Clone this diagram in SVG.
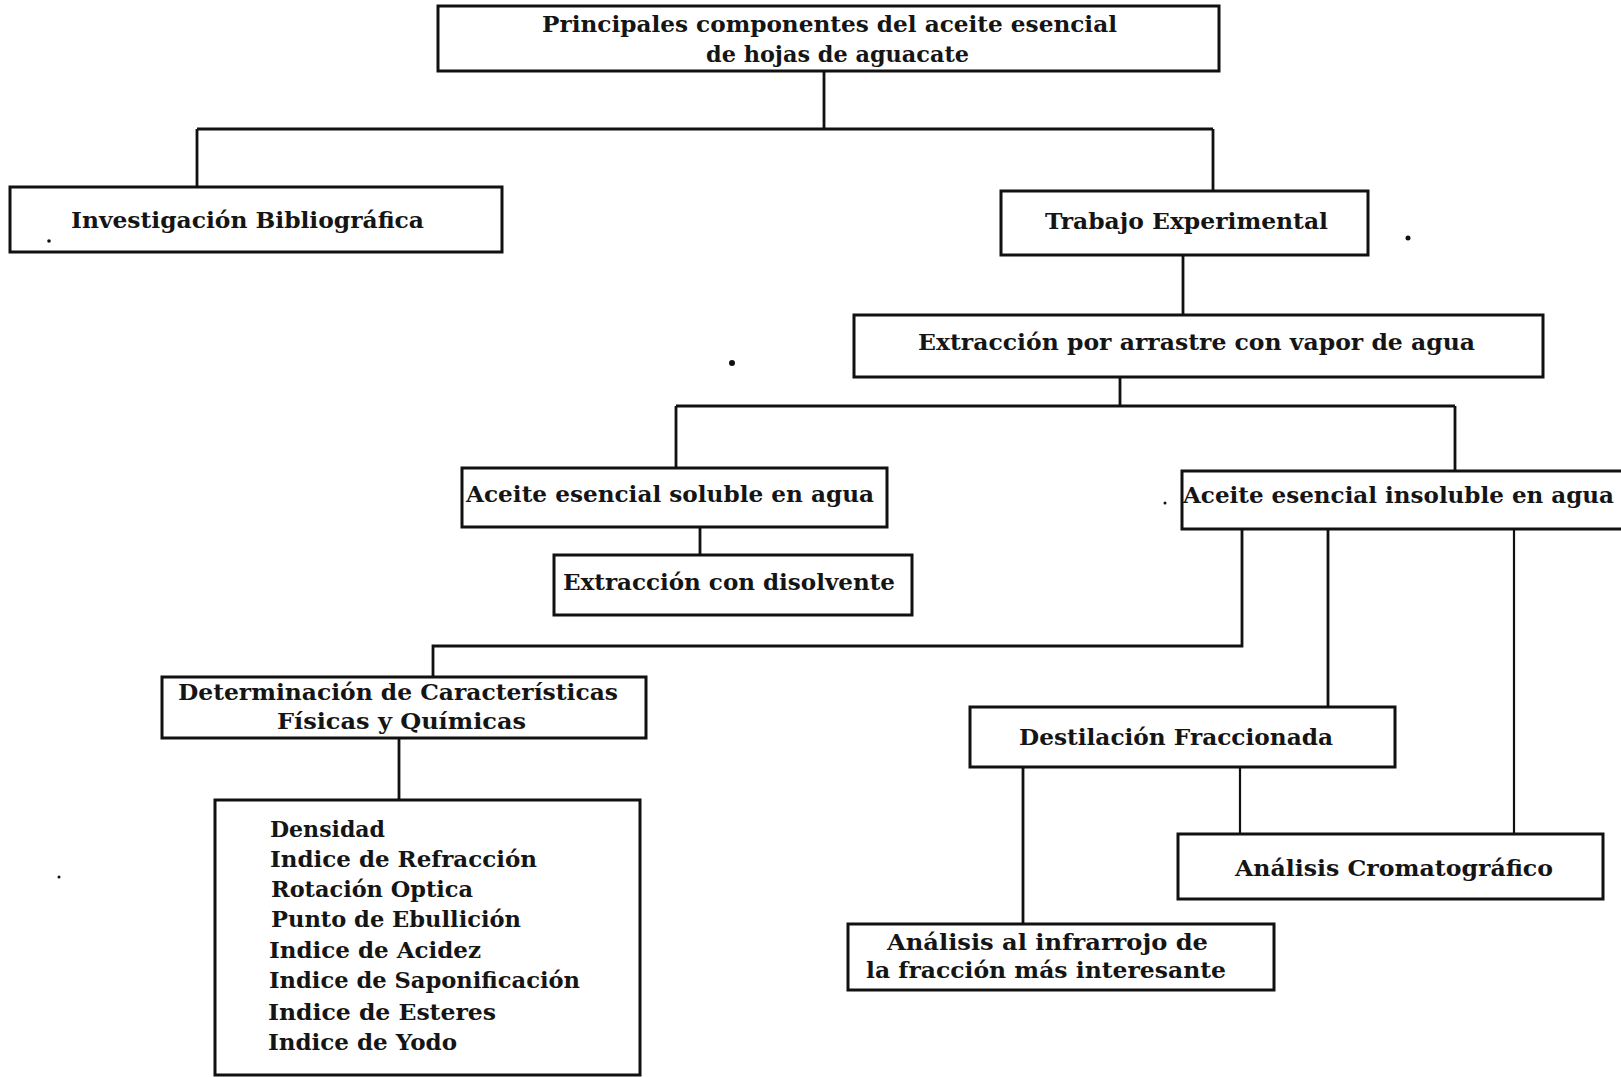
<svg xmlns="http://www.w3.org/2000/svg" width="1621" height="1077" viewBox="0 0 1621 1077">
<style>
.box{fill:#fff;stroke:#111;stroke-width:3}
.con{fill:none;stroke:#111;stroke-width:2.8}
.thin{stroke-width:2.2}
text{font-family:"DejaVu Serif","Liberation Serif",serif;font-weight:bold;font-size:22.5px;fill:#151515}
</style>
<rect width="1621" height="1077" fill="#fff"/>
<g id="connectors">
<path class="con" d="M824,71 V129 M197,129 H1213 M197,129 V187 M1213,129 V191"/>
<path class="con" d="M1183,255 V315"/>
<path class="con" d="M1120,377 V406 M676,406 H1455 M676,406 V468 M1455,406 V471"/>
<path class="con" d="M700,527 V555"/>
<path class="con" d="M1242,529 V646 H433 V677"/>
<path class="con" d="M399,738 V800"/>
<path class="con" d="M1328,529 V707"/>
<path class="con thin" d="M1514,529 V834"/>
<path class="con thin" d="M1240,767 V834"/>
<path class="con" d="M1023,767 V924"/>
</g>
<g id="n-top">
<rect class="box" x="438" y="6" width="781" height="65"/>
<text x="542" y="32" textLength="575" lengthAdjust="spacingAndGlyphs">Principales componentes del aceite esencial</text>
<text x="706" y="62" textLength="263" lengthAdjust="spacingAndGlyphs">de hojas de aguacate</text>
</g>
<g id="n-investigacion">
<rect class="box" x="10" y="187" width="492" height="65"/>
<text x="71" y="228" textLength="353" lengthAdjust="spacingAndGlyphs">Investigación Bibliográfica</text>
</g>
<g id="n-trabajo">
<rect class="box" x="1001" y="191" width="367" height="64"/>
<text x="1045" y="229" textLength="283" lengthAdjust="spacingAndGlyphs">Trabajo Experimental</text>
</g>
<g id="n-extraccion">
<rect class="box" x="854" y="315" width="689" height="62"/>
<text x="918" y="350" textLength="557" lengthAdjust="spacingAndGlyphs">Extracción por arrastre con vapor de agua</text>
</g>
<g id="n-soluble">
<rect class="box" x="462" y="468" width="425" height="59"/>
<text x="466" y="502" textLength="408" lengthAdjust="spacingAndGlyphs">Aceite esencial soluble en agua</text>
</g>
<g id="n-insoluble">
<rect class="box" x="1182" y="471" width="460" height="58"/>
<text x="1183" y="503" textLength="431" lengthAdjust="spacingAndGlyphs">Aceite esencial insoluble en agua</text>
</g>
<g id="n-disolvente">
<rect class="box" x="554" y="555" width="358" height="60"/>
<text x="563" y="590" textLength="332" lengthAdjust="spacingAndGlyphs">Extracción con disolvente</text>
</g>
<g id="n-determinacion">
<rect class="box" x="162" y="677" width="484" height="61"/>
<text x="178" y="700" textLength="440" lengthAdjust="spacingAndGlyphs">Determinación de Características</text>
<text x="277" y="729" textLength="249" lengthAdjust="spacingAndGlyphs">Físicas y Químicas</text>
</g>
<g id="n-lista">
<rect class="box" x="215" y="800" width="425" height="275"/>
<text x="270" y="837" textLength="115" lengthAdjust="spacingAndGlyphs">Densidad</text>
<text x="270" y="867" textLength="267" lengthAdjust="spacingAndGlyphs">Indice de Refracción</text>
<text x="271" y="897" textLength="202" lengthAdjust="spacingAndGlyphs">Rotación Optica</text>
<text x="271" y="927" textLength="250" lengthAdjust="spacingAndGlyphs">Punto de Ebullición</text>
<text x="269" y="958" textLength="212" lengthAdjust="spacingAndGlyphs">Indice de Acidez</text>
<text x="269" y="988" textLength="311" lengthAdjust="spacingAndGlyphs">Indice de Saponificación</text>
<text x="268" y="1020" textLength="228" lengthAdjust="spacingAndGlyphs">Indice de Esteres</text>
<text x="268" y="1050" textLength="189" lengthAdjust="spacingAndGlyphs">Indice de Yodo</text>
</g>
<g id="n-destilacion">
<rect class="box" x="970" y="707" width="425" height="60"/>
<text x="1019" y="745" textLength="314" lengthAdjust="spacingAndGlyphs">Destilación Fraccionada</text>
</g>
<g id="n-cromatografico">
<rect class="box" x="1178" y="834" width="425" height="65"/>
<text x="1235" y="876" textLength="318" lengthAdjust="spacingAndGlyphs">Análisis Cromatográfico</text>
</g>
<g id="n-infrarrojo">
<rect class="box" x="848" y="924" width="426" height="66"/>
<text x="887" y="950" textLength="321" lengthAdjust="spacingAndGlyphs">Análisis al infrarrojo de</text>
<text x="866" y="978" textLength="360" lengthAdjust="spacingAndGlyphs">la fracción más interesante</text>
</g>
<g id="specks" fill="#111">
<circle cx="732" cy="363" r="3"/>
<circle cx="1408" cy="238" r="2.5"/>
<circle cx="49" cy="241" r="1.8"/>
<circle cx="1165" cy="503" r="1.5"/>
<circle cx="59" cy="877" r="1.5"/>
</g>
</svg>
